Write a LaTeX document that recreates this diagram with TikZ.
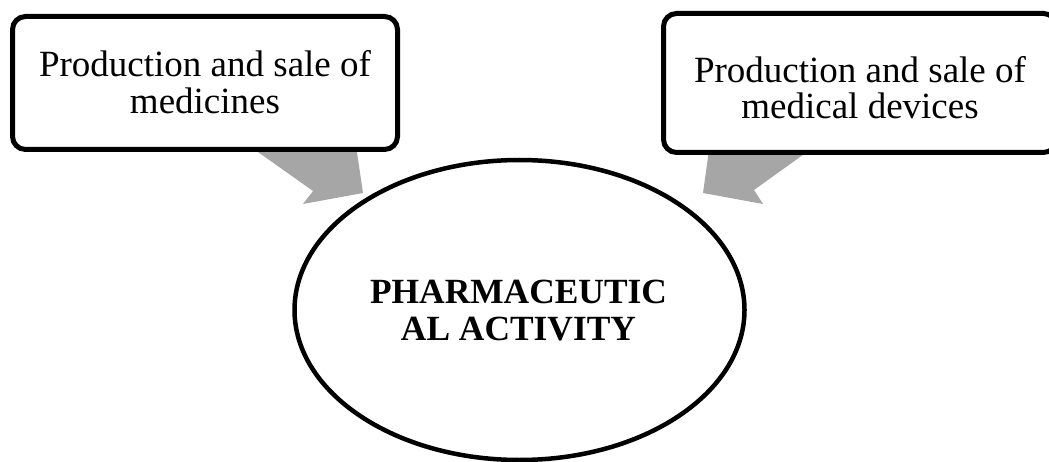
\documentclass[tikz,border=0pt]{standalone}
\usepackage{fontspec}
\setmainfont{Liberation Serif}
\usetikzlibrary{shapes.geometric}
\definecolor{arrowgray}{RGB}{166,166,166}
\begin{document}
\begin{tikzpicture}[x=1pt,y=-1pt,
  boxshape/.style={draw=black,line width=5pt,rounded corners=13pt,fill=white,inner sep=0pt},
  boxtext/.style={align=center,inner sep=0pt,font=\fontsize{37}{36.6}\selectfont},
  ovalshape/.style={draw=black,line width=4.5pt,ellipse,fill=white,inner sep=0pt,minimum width=450pt,minimum height=300pt},
  ovaltext/.style={align=center,inner sep=0pt,font=\bfseries\fontsize{35.4}{37}\selectfont},
  flowarrow/.style={fill=arrowgray,draw=none}]
\useasboundingbox (0,0) rectangle (1049,462);
\begin{scope}
\clip (0,0) rectangle (1049,462);
% gray block arrows (behind boxes)
\fill[flowarrow] (241,140) -- (355.2,140) -- (363,193) -- (303,204) -- (313,191) -- cycle;
\fill[flowarrow] (709.7,145) -- (816.7,145) -- (754,190) -- (763,204) -- (703,193) -- cycle;
% boxes
\node[boxshape,minimum width=385pt,minimum height=133pt] (lb) at (205,83) {};
\node[boxtext] (lt) at (205,82) {Production and sale of\\medicines};
\node[boxshape,minimum width=393pt,minimum height=139pt] (rb) at (860,83) {};
\node[boxtext] (rt) at (860,87.5) {Production and sale of\\medical devices};
% ellipse
\node[ovalshape] (el) at (519.5,310) {};
\node[ovaltext] (et) at (518.5,311) {PHARMACEUTIC\\AL ACTIVITY};
\end{scope}
\end{tikzpicture}
\end{document}
